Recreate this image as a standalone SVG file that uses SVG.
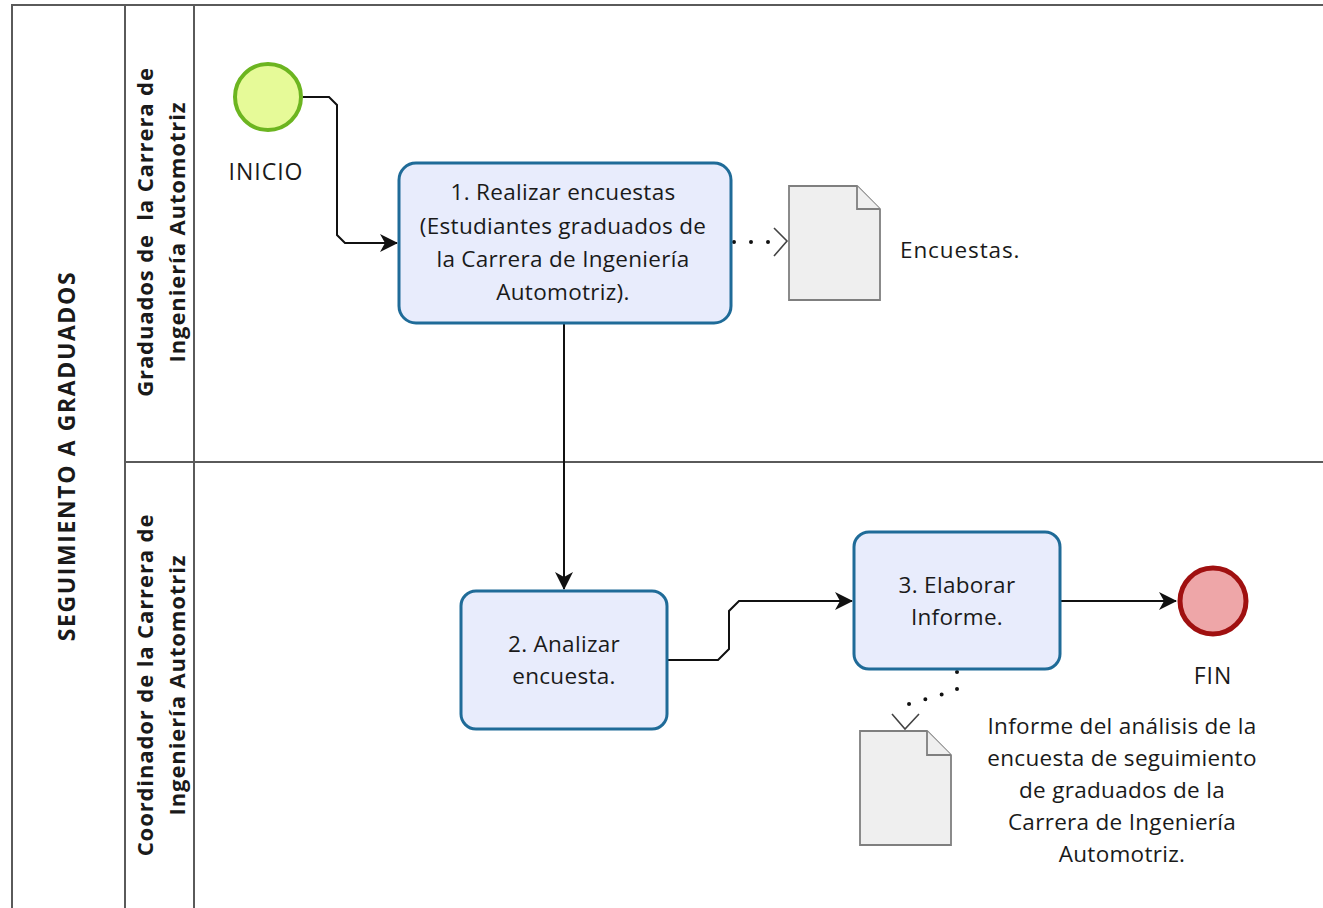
<svg xmlns="http://www.w3.org/2000/svg" width="1323" height="908" viewBox="0 0 1323 908">
  <defs>
    <style>
      .lane { fill: none; stroke: #5a5a5a; stroke-width: 2; }
      .title { font-family: "Open Sans", "Noto Sans", sans-serif; font-weight: bold; font-size: 22px; letter-spacing: 0.9px; fill: #1a1a1a; text-anchor: middle; }
      .pool { font-size: 23px; letter-spacing: 1.6px; }
      .txt { font-family: "Open Sans", "Noto Sans", sans-serif; font-size: 22.5px; letter-spacing: 0.3px; fill: #1a1a1a; text-anchor: middle; }
      .caps { font-size: 23px; letter-spacing: 1px; }
      .task { fill: #e8ecfc; stroke: #1f6b98; stroke-width: 3; }
      .doc { fill: #efefef; stroke: #7f7f7f; stroke-width: 1.8; }
      .flow { fill: none; stroke: #111; stroke-width: 2; }
      .assoc { fill: none; stroke: #111; stroke-width: 4; stroke-linecap: round; stroke-dasharray: 0 17; }
      .chev { fill: none; stroke: #444; stroke-width: 1.6; }
    </style>
    <marker id="arrow" markerWidth="18" markerHeight="18" refX="17" refY="9" orient="auto" markerUnits="userSpaceOnUse">
      <path d="M0,0 L18,9 L0,18 L5,9 Z" fill="#111"/>
    </marker>
  </defs>

  <rect width="1323" height="908" fill="#ffffff"/>

  <!-- pool and lanes -->
  <g id="pool">
    <path class="lane" d="M1323,5 H12 V908"/>
    <path class="lane" d="M125,5 V908 M194,5 V908 M125,462 H1323"/>
    <text class="title pool" transform="translate(75,456) rotate(-90)">SEGUIMIENTO A GRADUADOS</text>
  </g>
  <g id="lane-graduados">
    <text class="title" transform="translate(153,232) rotate(-90)" xml:space="preserve">Graduados de  la Carrera de</text>
    <text class="title" transform="translate(185,232) rotate(-90)">Ingeniería Automotriz</text>
  </g>
  <g id="lane-coordinador">
    <text class="title" transform="translate(153,685) rotate(-90)">Coordinador de la Carrera de</text>
    <text class="title" transform="translate(185,685) rotate(-90)">Ingeniería Automotriz</text>
  </g>

  <!-- connectors -->
  <g id="connectors">
    <path class="flow" d="M303,97 H329 L337,105 V235 L345,243 H397" marker-end="url(#arrow)"/>
    <path class="flow" d="M564,324 V589" marker-end="url(#arrow)"/>
    <path class="flow" d="M667,660 H718 L729,649 V611 L739,601 H852" marker-end="url(#arrow)"/>
    <path class="flow" d="M1060,601 H1176" marker-end="url(#arrow)"/>
    <path class="assoc" d="M734,242 H785"/>
    <path class="chev" d="M774,228 L787,241 L774,256"/>
    <path class="assoc" d="M957,672 V690 L906,705"/>
    <path class="chev" d="M892,714 L905,729 L919,714"/>
  </g>

  <!-- start event -->
  <g id="start">
    <circle cx="268" cy="97" r="33" fill="#e6fa98" stroke="#6cb520" stroke-width="4"/>
    <text class="txt caps" x="266" y="180">INICIO</text>
  </g>

  <!-- task 1 -->
  <g id="task1">
    <rect class="task" x="399" y="163" width="332" height="160" rx="17"/>
    <text class="txt" x="563" y="200">1. Realizar encuestas</text>
    <text class="txt" x="563" y="234">(Estudiantes graduados de</text>
    <text class="txt" x="563" y="267">la Carrera de Ingeniería</text>
    <text class="txt" x="563" y="300">Automotriz).</text>
  </g>

  <!-- document: encuestas -->
  <g id="doc1">
    <path class="doc" d="M789,186 H857 L880,209 V300 H789 Z"/>
    <path class="doc" d="M857,186 V209 H880"/>
    <text class="txt" x="900" y="258" style="text-anchor:start; letter-spacing:0.9px">Encuestas.</text>
  </g>

  <!-- task 2 -->
  <g id="task2">
    <rect class="task" x="461" y="591" width="206" height="138" rx="15"/>
    <text class="txt" x="564" y="652">2. Analizar</text>
    <text class="txt" x="564" y="684">encuesta.</text>
  </g>

  <!-- task 3 -->
  <g id="task3">
    <rect class="task" x="854" y="532" width="206" height="137" rx="15"/>
    <text class="txt" x="957" y="593">3. Elaborar</text>
    <text class="txt" x="957" y="625">Informe.</text>
  </g>

  <!-- end event -->
  <g id="end">
    <circle cx="1213" cy="601" r="33" fill="#eea6a8" stroke="#a01010" stroke-width="5"/>
    <text class="txt caps" x="1213" y="684">FIN</text>
  </g>

  <!-- document: informe -->
  <g id="doc2">
    <path class="doc" d="M860,731 H927 L951,755 V845 H860 Z"/>
    <path class="doc" d="M927,731 V755 H951"/>
    <text class="txt" x="1122" y="734">Informe del análisis de la</text>
    <text class="txt" x="1122" y="766">encuesta de seguimiento</text>
    <text class="txt" x="1122" y="798">de graduados de la</text>
    <text class="txt" x="1122" y="830">Carrera de Ingeniería</text>
    <text class="txt" x="1122" y="862">Automotriz.</text>
  </g>
</svg>
